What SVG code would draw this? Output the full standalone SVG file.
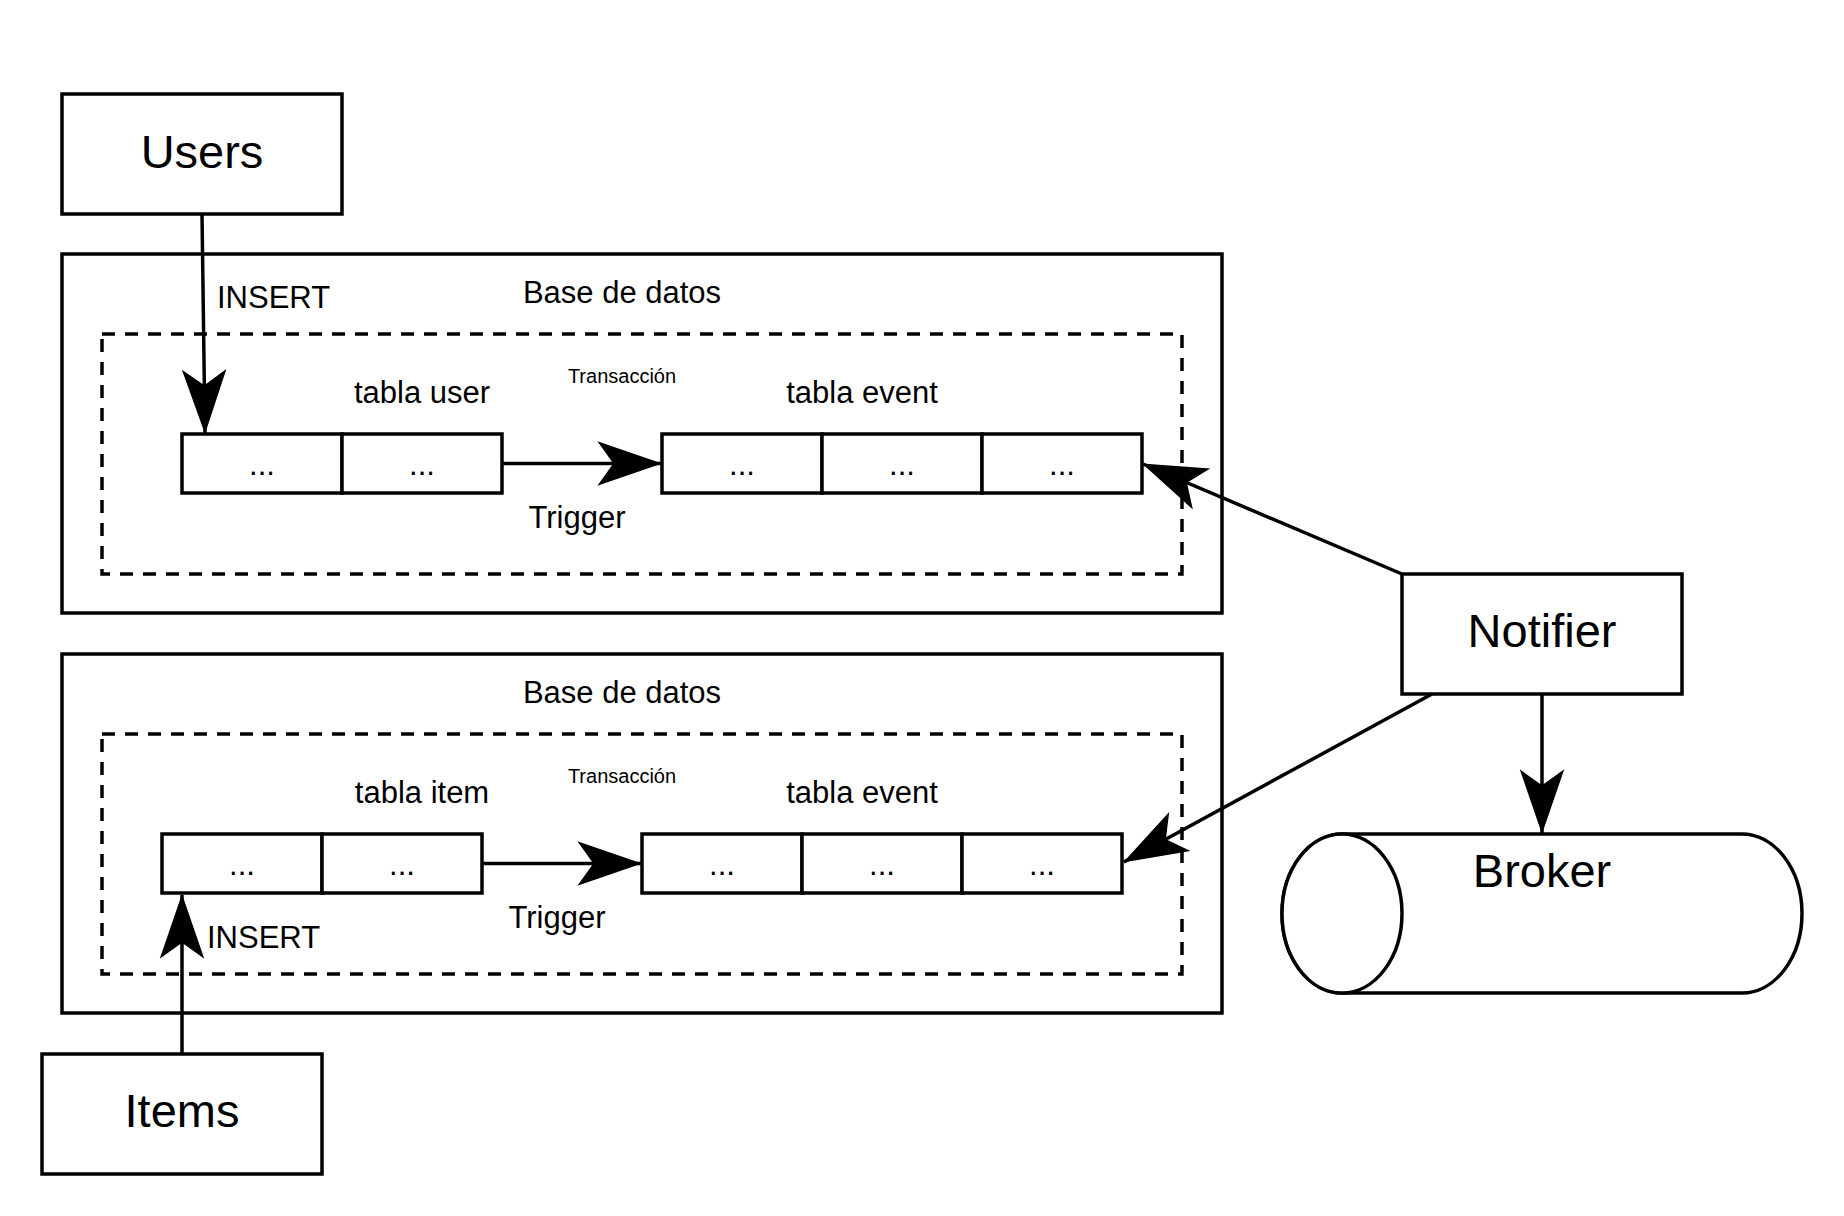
<svg xmlns="http://www.w3.org/2000/svg" width="1844" height="1216" viewBox="0 0 1844 1216">
<style>
  .box { fill: #ffffff; stroke: #000000; stroke-width: 3.5; }
  .dash { fill: none; stroke: #000000; stroke-width: 3.5; stroke-dasharray: 13 10; }
  .edge { fill: none; stroke: #000000; stroke-width: 3.5; }
  text { font-family: "Liberation Sans", Arial, Helvetica, sans-serif; fill: #000000; }
  .big { font-size: 47px; text-anchor: middle; }
  .mid { font-size: 31px; text-anchor: middle; }
  .lbl { font-size: 31px; }
  .small { font-size: 20px; text-anchor: middle; }
</style>
<defs>
  <marker id="arrow" markerUnits="userSpaceOnUse" markerWidth="70" markerHeight="50" viewBox="-64 -23 66 46" refX="0" refY="0" orient="auto">
    <path d="M1,0 L-60,-21 L-45,0 L-60,21 Z" fill="#000000" stroke="none"/>
  </marker>
</defs>
<rect width="1844" height="1216" fill="#ffffff"/>

<g id="db1">
  <rect class="box" x="62" y="254" width="1160" height="359"/>
  <text class="mid" x="622" y="303">Base de datos</text>
  <rect class="dash" x="102" y="334" width="1080" height="240"/>
  <text class="small" x="622" y="383">Transacción</text>
</g>
<g id="tabla-user">
  <text class="mid" x="422" y="403">tabla user</text>
  <rect class="box" x="182" y="434" width="160" height="59"/>
  <rect class="box" x="342" y="434" width="160" height="59"/>
  <text class="mid" x="262" y="475">...</text>
  <text class="mid" x="422" y="475">...</text>
</g>
<g id="tabla-event-1">
  <text class="mid" x="862" y="403">tabla event</text>
  <rect class="box" x="662" y="434" width="160" height="59"/>
  <rect class="box" x="822" y="434" width="160" height="59"/>
  <rect class="box" x="982" y="434" width="160" height="59"/>
  <text class="mid" x="742" y="475">...</text>
  <text class="mid" x="902" y="475">...</text>
  <text class="mid" x="1062" y="475">...</text>
</g>

<g id="db2">
  <rect class="box" x="62" y="654" width="1160" height="359"/>
  <text class="mid" x="622" y="703">Base de datos</text>
  <rect class="dash" x="102" y="734" width="1080" height="240"/>
  <text class="small" x="622" y="783">Transacción</text>
</g>
<g id="tabla-item">
  <text class="mid" x="422" y="803">tabla item</text>
  <rect class="box" x="162" y="834" width="160" height="59"/>
  <rect class="box" x="322" y="834" width="160" height="59"/>
  <text class="mid" x="242" y="875">...</text>
  <text class="mid" x="402" y="875">...</text>
</g>
<g id="tabla-event-2">
  <text class="mid" x="862" y="803">tabla event</text>
  <rect class="box" x="642" y="834" width="160" height="59"/>
  <rect class="box" x="802" y="834" width="160" height="59"/>
  <rect class="box" x="962" y="834" width="160" height="59"/>
  <text class="mid" x="722" y="875">...</text>
  <text class="mid" x="882" y="875">...</text>
  <text class="mid" x="1042" y="875">...</text>
</g>

<g id="users">
  <rect class="box" x="62" y="94" width="280" height="120"/>
  <text class="big" x="202" y="168">Users</text>
</g>
<g id="items">
  <rect class="box" x="42" y="1054" width="280" height="120"/>
  <text class="big" x="182" y="1127">Items</text>
</g>
<g id="notifier">
  <rect class="box" x="1402" y="574" width="280" height="120"/>
  <text class="big" x="1542" y="647">Notifier</text>
</g>
<g id="broker">
  <path class="box" d="M1342,834 L1742,834 A60,79.5 0 0 1 1742,993 L1342,993 A60,79.5 0 0 1 1342,834 Z"/>
  <ellipse class="box" cx="1342" cy="913.5" rx="60" ry="79.5"/>
  <text class="big" x="1542" y="887">Broker</text>
</g>

<g id="connectors">
  <line class="edge" x1="202" y1="214" x2="205" y2="433" marker-end="url(#arrow)"/>
  <text class="lbl" x="217" y="308">INSERT</text>
  <line class="edge" x1="502" y1="463.5" x2="661" y2="463.5" marker-end="url(#arrow)"/>
  <text class="mid" x="577" y="528">Trigger</text>
  <line class="edge" x1="182" y1="1054" x2="182" y2="895" marker-end="url(#arrow)"/>
  <text class="lbl" x="207" y="948">INSERT</text>
  <line class="edge" x1="482" y1="863.5" x2="641" y2="863.5" marker-end="url(#arrow)"/>
  <text class="mid" x="557" y="928">Trigger</text>
  <line class="edge" x1="1402" y1="574" x2="1143" y2="464" marker-end="url(#arrow)"/>
  <line class="edge" x1="1432" y1="694" x2="1124" y2="862" marker-end="url(#arrow)"/>
  <line class="edge" x1="1542" y1="694" x2="1542" y2="833" marker-end="url(#arrow)"/>
</g>
</svg>
